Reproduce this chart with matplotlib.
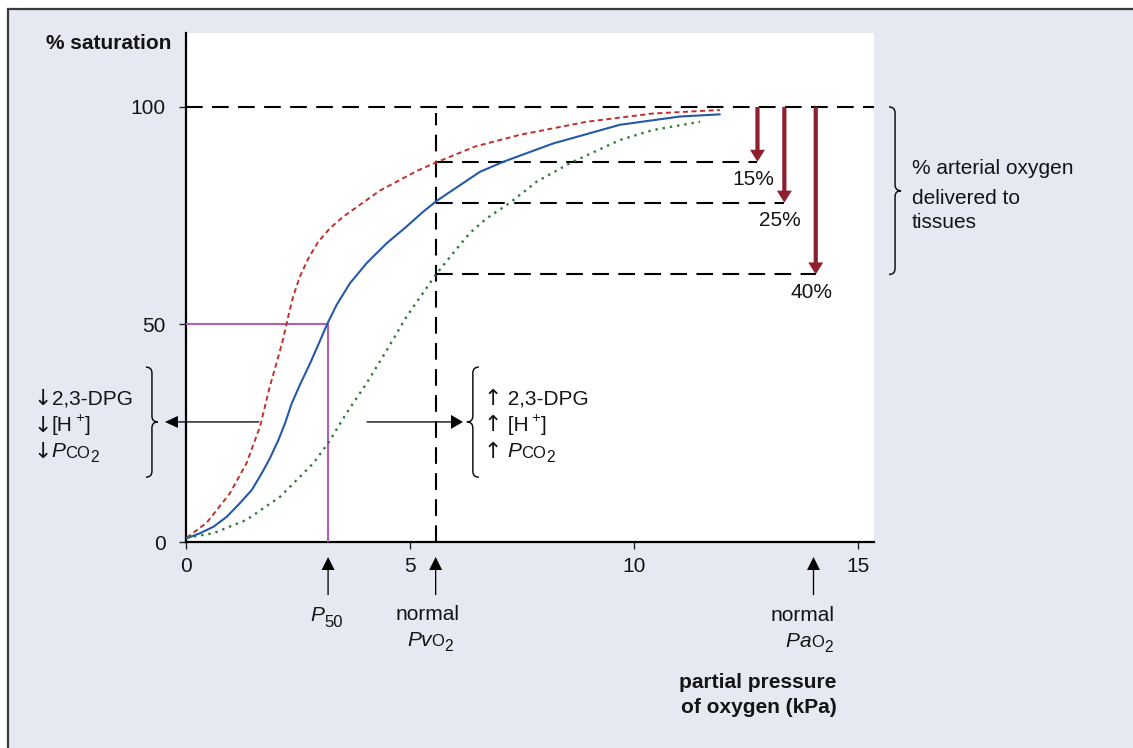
import matplotlib
matplotlib.use("Agg")
import matplotlib.pyplot as plt
import matplotlib.font_manager as fm
from matplotlib.patches import Rectangle, PathPatch
from matplotlib.path import Path

# ---------------------------------------------------------------- data
# Oxyhaemoglobin dissociation curves: PO2 (kPa) vs % saturation
po2_normal = [0.015, 0.31, 0.61, 0.91, 1.20, 1.47, 1.69, 1.87, 2.06, 2.21, 2.36,
              2.54, 2.77, 2.97, 3.15, 3.36, 3.66, 4.03, 4.48, 4.92, 5.29, 5.59,
              6.56, 7.08, 8.19, 9.68, 11.02, 11.91]
sat_normal = [0.85, 2.0, 3.5, 5.8, 8.9, 12.0, 15.8, 19.2, 23.4, 27.3, 31.9,
              36.1, 41.1, 45.8, 50.1, 54.5, 59.5, 64.1, 68.7, 72.5, 75.9, 78.4,
              85.1, 87.4, 91.6, 95.9, 97.8, 98.3]

# left-shifted curve (lower 2,3-DPG, H+, PCO2)
po2_left = [0.015, 0.46, 0.98, 1.35, 1.65, 1.87, 2.10, 2.17, 2.28, 2.39, 2.54,
            2.73, 2.95, 3.21, 3.51, 3.88, 4.33, 4.77, 5.15, 5.57, 6.45, 7.45,
            8.94, 10.42, 11.91]
sat_left = [1.0, 4.4, 11.2, 18.1, 26.5, 35.7, 44.1, 46.8, 51.8, 56.4, 61.0,
            65.2, 69.0, 72.1, 74.8, 77.5, 80.8, 83.2, 85.3, 87.2, 90.9, 93.6,
            96.6, 98.5, 99.3]

# right-shifted curve (higher 2,3-DPG, H+, PCO2)
po2_right = [0.015, 0.61, 1.35, 2.10, 2.84, 3.17, 3.58, 4.03, 4.48, 4.92, 5.57,
             5.96, 6.33, 6.71, 7.23, 7.82, 8.57, 9.68, 10.42, 11.47]
sat_right = [1.0, 2.0, 5.1, 10.4, 18.1, 22.7, 29.6, 36.5, 44.1, 51.8, 61.4,
             66.4, 71.0, 74.4, 78.0, 82.8, 87.1, 92.4, 94.7, 96.6]

P50 = 3.17          # kPa
PVO2 = 5.57         # normal mixed venous PO2, kPa
PAO2 = 14.0         # normal arterial PO2, kPa

venous_sat = [87.4, 78.0, 61.5]          # venous saturation for each curve
delivered_labels = ["15%", "25%", "40%"]
delivery_po2 = [12.75, 13.35, 14.05]

x_ticks = [0, 5, 10, 15]
y_ticks = [0, 50, 100]

# ---------------------------------------------------------------- style
names = {f.name for f in fm.fontManager.ttflist}
if "Liberation Sans Narrow" in names:
    FONT = ["Liberation Sans Narrow", "DejaVu Sans"]
    FS = 17
else:
    FONT = ["Liberation Sans", "DejaVu Sans"]
    FS = 15
plt.rcParams["font.family"] = FONT
ARROW_FONT = ["DejaVu Sans"]

INK = "#141414"
BG = "#e6e9f1"
BLUE = "#2459a8"
RED = "#c0302a"
GREEN = "#2e7a3c"
PURPLE = "#b55db4"
BROWN = "#8e1f2e"

W_PX, H_PX = 1133, 748
fig = plt.figure(figsize=(W_PX / 100, H_PX / 100), dpi=100, facecolor="white")
fig.add_artist(Rectangle((8 / W_PX, -0.05), 1.2, 1 - 9 / H_PX + 0.05,
                         transform=fig.transFigure, facecolor=BG,
                         edgecolor="#3a3a3a", lw=1.6, zorder=-10))

ax = fig.add_axes([186 / W_PX, (H_PX - 542) / H_PX, 688 / W_PX, 509 / H_PX])
ax.set_facecolor("white")
ax.set_xlim(0, 15.35)
ax.set_ylim(0, 117)
for s in ("top", "right"):
    ax.spines[s].set_visible(False)
for s in ("left", "bottom"):
    ax.spines[s].set_linewidth(1.6)
    ax.spines[s].set_color("black")
ax.set_xticks(x_ticks)
ax.set_yticks(y_ticks)
ax.tick_params(direction="out", length=5, width=1, color="#222222",
               labelsize=FS, labelcolor=INK)
ax.tick_params(axis="y", pad=9.5)
ax.tick_params(axis="x", pad=6)

# data-unit size of one pixel
PX_X = 688 / (ax.get_xlim()[1] - ax.get_xlim()[0])
PX_Y = 509 / (ax.get_ylim()[1] - ax.get_ylim()[0])

# ---------------------------------------------------------------- curves
ax.plot(po2_normal, sat_normal, color=BLUE, lw=1.5, zorder=4,
        solid_joinstyle="round", solid_capstyle="round")
ax.plot(po2_left, sat_left, color=RED, lw=1.4, dashes=(2.6, 1.8), zorder=4)
ax.plot(po2_right, sat_right, color=GREEN, lw=1.7, dashes=(1, 2.1), zorder=4)

# P50 construction
ax.plot([0, P50, P50], [50, 50, 0], color=PURPLE, lw=1.5, zorder=3)

# reference dashed lines
dash = dict(color="black", lw=1.5, dashes=(8, 4.5), zorder=2)
ax.plot([0, ax.get_xlim()[1]], [100, 100], **dash)
ax.plot([PVO2, PVO2], [0, 98.6], **dash)
for lvl, xa in zip(venous_sat, delivery_po2):
    ax.plot([PVO2, xa], [lvl, lvl], **dash)


def arrow(x0, y0, x1, y1, shaft, head_w, head_l, color):
    """Filled arrow with sizes in pixels."""
    if x0 == x1:     # vertical
        ax.arrow(x0, y0, 0, y1 - y0, width=shaft / PX_X, head_width=head_w / PX_X,
                 head_length=head_l / PX_Y, length_includes_head=True,
                 fc=color, ec="none", clip_on=False, zorder=5)
    else:            # horizontal
        ax.arrow(x0, y0, x1 - x0, 0, width=shaft / PX_Y, head_width=head_w / PX_Y,
                 head_length=head_l / PX_X, length_includes_head=True,
                 fc=color, ec="none", clip_on=False, zorder=5)


# oxygen delivered to tissues
for lvl, xa, lab in zip(venous_sat, delivery_po2, delivered_labels):
    arrow(xa, 100, xa, lvl, 4.2, 15, 12, BROWN)
    ax.text(xa - 0.1, lvl - 5.3, lab, ha="center", va="baseline",
            fontsize=FS, color=INK)

# curve-shift arrows
SHIFT_Y = 27.6
arrow(1.63, SHIFT_Y, -0.47, SHIFT_Y, 1.3, 12, 13, "black")
arrow(4.03, SHIFT_Y, 6.18, SHIFT_Y, 1.3, 14, 12, "black")

# markers under the x axis
for xm in (P50, PVO2, PAO2):
    arrow(xm, -12.2, xm, -3.45, 1.3, 13, 13, "black")


def brace(x, y_top, y_bot, y_mid, side, arm=6, r=6, lw=1.1):
    """Curly brace; side=+1 -> '}' (tip right), -1 -> '{' (tip left)."""
    a = arm / PX_X
    ry = r / PX_Y
    verts = [(x - side * a, y_top), (x, y_top), (x, y_top - ry),
             (x, y_mid + ry),
             (x, y_mid), (x + side * a, y_mid),
             (x, y_mid), (x, y_mid - ry),
             (x, y_bot + ry),
             (x, y_bot), (x - side * a, y_bot)]
    codes = [Path.MOVETO, Path.CURVE3, Path.CURVE3, Path.LINETO,
             Path.CURVE3, Path.CURVE3, Path.CURVE3, Path.CURVE3,
             Path.LINETO, Path.CURVE3, Path.CURVE3]
    ax.add_patch(PathPatch(Path(verts, codes), fill=False, ec=INK, lw=lw,
                           clip_on=False, zorder=5))


brace(-0.76, 40.2, 14.9, SHIFT_Y, +1)
brace(6.40, 40.2, 14.9, SHIFT_Y, -1)
brace(15.82, 100, venous_sat[-1], (100 + venous_sat[-1]) / 2, +1)

# ---------------------------------------------------------------- rich text
pending = []
DESC = 0.21


def rich(x, y, parts, align="left", weight="normal"):
    s0, k0 = parts[0]
    size0 = k0.get("size", FS)
    first = ax.annotate(s0, xy=(x, y), xycoords="data", xytext=(0, 0),
                        textcoords="offset points", ha="left", va="baseline",
                        fontsize=size0, fontstyle=k0.get("style", "normal"),
                        fontfamily=k0.get("family", FONT),
                        fontweight=weight, color=INK, annotation_clip=False)
    prev = first
    for s, k in parts[1:]:
        size = k.get("size", FS)
        dy = k.get("dy", 0) + DESC * (size0 - size)
        prev = ax.annotate(s, xy=(1, 0), xycoords=(prev, first),
                           xytext=(k.get("dx", 0), dy), textcoords="offset points",
                           ha="left", va="bottom", fontsize=size,
                           fontstyle=k.get("style", "normal"),
                           fontfamily=k.get("family", FONT), fontweight=weight,
                           color=INK, annotation_clip=False)
    if align != "left":
        pending.append((first, prev, align))


IT = {"style": "italic"}
SC = {"size": FS * 0.8}
SUB = {"size": FS * 0.75, "dy": -3.5}
SUP = {"size": FS * 0.7, "dy": 6.5}
DOWN = ("↓", {"family": ARROW_FONT, "size": FS * 1.05})
UP = ("↑", {"family": ARROW_FONT, "size": FS * 1.05})

left_lines = [
    [DOWN, ("2,3-DPG", {})],
    [DOWN, ("[H", {}), (" +", SUP), ("]", {})],
    [DOWN, ("P", IT), ("CO", SC), ("2", SUB)],
]
right_lines = [
    [UP, (" 2,3-DPG", {})],
    [UP, (" [H", {}), (" +", SUP), ("]", {})],
    [UP, (" ", {}), ("P", IT), ("CO", SC), ("2", SUB)],
]
for yb, parts in zip([31.5, 25.4, 19.4], left_lines):
    rich(-3.41, yb, parts)
for yb, parts in zip([31.5, 25.4, 19.4], right_lines):
    rich(6.63, yb, parts)

# axis annotations
rich(2.77, -18.2, [("P", IT), ("50", {"size": FS * 0.8, "dy": -4})])
ax.text(5.40, -18.0, "normal", ha="center", va="baseline", fontsize=FS, color=INK)
rich(5.45, -23.9, [("P", IT), ("v", IT), ("O", SC), ("2", SUB)], align="center")
ax.text(14.48, -18.1, "normal", ha="right", va="baseline", fontsize=FS, color=INK)
rich(14.43, -24.1, [("P", IT), ("a", IT), ("O", SC), ("2", SUB)], align="right")

ax.text(14.52, -33.6, "partial pressure", ha="right", va="baseline",
        fontsize=FS, fontweight="bold", color=INK)
ax.text(14.52, -39.3, "of oxygen (kPa)", ha="right", va="baseline",
        fontsize=FS, fontweight="bold", color=INK)
ax.text(-0.33, 113.3, "% saturation", ha="right", va="baseline",
        fontsize=FS, fontweight="bold", color=INK)

for yb, line in zip([84.5, 77.8, 72.1],
                    ["% arterial oxygen", "delivered to", "tissues"]):
    ax.text(16.19, yb, line, ha="left", va="baseline", fontsize=FS, color=INK)

# align multi-part labels
fig.canvas.draw()
renderer = fig.canvas.get_renderer()
for first, last, align in pending:
    w = last.get_window_extent(renderer).x1 - first.get_window_extent(renderer).x0
    shift = w * 72 / fig.dpi
    first.xyann = (-shift / 2 if align == "center" else -shift, 0)

fig.savefig("out.png", dpi=100, facecolor=fig.get_facecolor())
